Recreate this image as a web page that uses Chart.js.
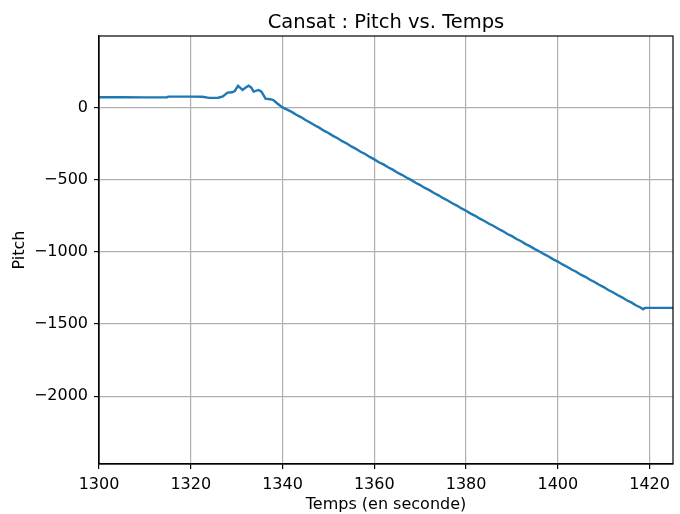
<!DOCTYPE html>
<html>
<head>
<meta charset="utf-8">
<title>Cansat : Pitch vs. Temps</title>
<script src="https://cdn.jsdelivr.net/npm/chart.js@4/dist/chart.umd.min.js"></script>
<style>
  html, body { margin: 0; padding: 0; background: #ffffff; }
  #wrap { width: 680px; height: 514px; }
</style>
</head>
<body>
<div id="wrap"><canvas id="c" width="680" height="514"></canvas></div>
<script>
// Recorded samples: time (s) and pitch
const temps = [
  1300, 1305, 1310, 1314.8, 1315.1, 1320, 1322.5, 1324, 1326, 1327,
  1328, 1329, 1329.6, 1330.3, 1331.3, 1332.0, 1332.6, 1333.2, 1333.7, 1334.8,
  1335.4, 1336.3, 1337.3, 1338.0, 1338.8, 1339.9,
  1341, 1342, 1343, 1344, 1345, 1346, 1347, 1348, 1349, 1350,
  1351, 1352, 1353, 1354, 1355, 1356, 1357, 1358, 1359, 1360,
  1361, 1362, 1363, 1364, 1365, 1366, 1367, 1368, 1369, 1370,
  1371, 1372, 1373, 1374, 1375, 1376, 1377, 1378, 1379, 1380,
  1381, 1382, 1383, 1384, 1385, 1386, 1387, 1388, 1389, 1390,
  1391, 1392, 1393, 1394, 1395, 1396, 1397, 1398, 1399, 1400,
  1401, 1402, 1403, 1404, 1405, 1406, 1407, 1408, 1409, 1410,
  1411, 1412, 1413, 1414, 1415, 1416, 1417, 1418, 1418.6, 1419,
  1422, 1425.2
];
const pitch = [
  72, 72, 71, 71, 76, 76, 75, 67, 68, 78,
  104, 106, 115, 150, 122, 140, 152, 138, 111, 122,
  110, 62, 58, 52, 30, 3,
  -14, -30, -50, -66, -86, -103, -123, -139, -160, -176,
  -196, -212, -233, -249, -269, -286, -306, -322, -342, -359,
  -379, -394, -414, -430, -450, -466, -485, -501, -521, -537,
  -557, -572, -592, -608, -628, -644, -663, -679, -699, -715,
  -735, -750, -770, -786, -805, -821, -840, -856, -876, -891,
  -911, -926, -946, -962, -981, -997, -1016, -1032, -1052, -1067,
  -1087, -1103, -1122, -1138, -1158, -1173, -1193, -1209, -1228, -1244,
  -1264, -1280, -1299, -1315, -1335, -1350, -1370, -1385, -1398, -1388,
  -1388, -1388
];

// Axis ranges and tick positions
const xRange = [1300, 1425.1];
const yRange = [-2470, 496];
const xTicks = [1300, 1320, 1340, 1360, 1380, 1400, 1420];
const yTicks = [-2000, -1500, -1000, -500, 0];

const points = temps.map((t, i) => ({ x: t, y: pitch[i] }));

const FONT = "'DejaVu Sans', sans-serif";
const minusFmt = v => (v < 0 ? '\u2212' + Math.abs(v) : String(v));

// Frame on all four sides plus the title centred over the plot area
const framePlugin = {
  id: 'frame',
  afterDatasetsDraw(chart) {
    const { ctx, chartArea: a } = chart;
    ctx.save();
    ctx.strokeStyle = '#000000';
    ctx.lineWidth = 1.2;
    ctx.strokeRect(a.left, a.top, a.right - a.left, a.bottom - a.top);
    ctx.restore();
  },
  afterDraw(chart) {
    const { ctx, chartArea: a } = chart;
    ctx.save();
    ctx.fillStyle = '#000000';
    ctx.font = "19.5px " + FONT;
    ctx.textAlign = 'center';
    ctx.textBaseline = 'alphabetic';
    ctx.fillText('Cansat : Pitch vs. Temps', (a.left + a.right) / 2, 28);
    ctx.restore();
  }
};

new Chart(document.getElementById('c'), {
  type: 'line',
  data: {
    datasets: [{
      data: points,
      borderColor: '#1f77b4',
      borderWidth: 2.4,
      pointRadius: 0,
      tension: 0,
      fill: false
    }]
  },
  options: {
    responsive: false,
    animation: false,
    events: [],
    layout: { padding: { left: 0, right: 7, top: 36, bottom: 0 } },
    plugins: {
      legend: { display: false },
      title: { display: false },
      tooltip: { enabled: false }
    },
    scales: {
      x: {
        type: 'linear',
        min: xRange[0],
        max: xRange[1],
        afterBuildTicks: s => { s.ticks = xTicks.map(v => ({ value: v })); },
        afterFit: s => { s.height = 50; },
        grid: { color: '#b0b0b0', lineWidth: 1.2, tickLength: 5, tickColor: '#000000', drawTicks: true },
        border: { display: true, color: '#000000', width: 1.2 },
        ticks: {
          color: '#000000',
          font: { family: FONT, size: 16 },
          padding: 6.5,
          maxRotation: 0,
          autoSkip: false,
          callback: v => minusFmt(v)
        },
        title: {
          display: true,
          text: 'Temps (en seconde)',
          color: '#000000',
          font: { family: FONT, size: 16 },
          padding: { top: 0, bottom: 0 }
        }
      },
      y: {
        type: 'linear',
        min: yRange[0],
        max: yRange[1],
        afterBuildTicks: s => { s.ticks = yTicks.map(v => ({ value: v })); },
        afterFit: s => { s.width = 99; },
        grid: { color: '#b0b0b0', lineWidth: 1.2, tickLength: 5, tickColor: '#000000', drawTicks: true },
        border: { display: true, color: '#000000', width: 1.2 },
        ticks: {
          color: '#000000',
          font: { family: FONT, size: 16 },
          padding: 6,
          autoSkip: false,
          callback: v => minusFmt(v)
        },
        title: {
          display: true,
          text: 'Pitch',
          color: '#000000',
          font: { family: FONT, size: 16 },
          padding: { top: 10, bottom: 0 }
        }
      }
    }
  },
  plugins: [framePlugin]
});
</script>
</body>
</html>
